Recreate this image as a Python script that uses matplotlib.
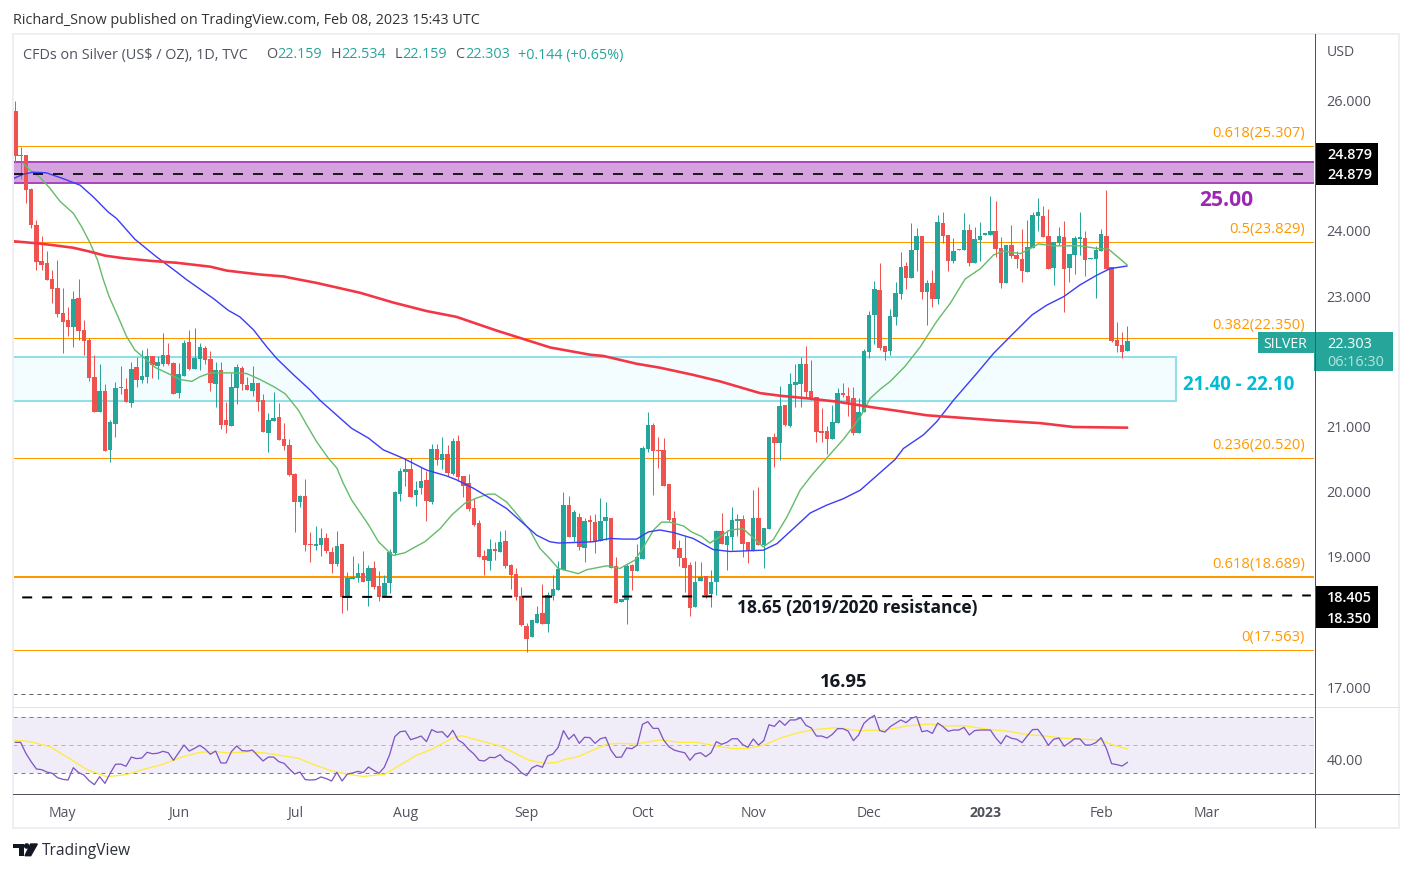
import matplotlib
matplotlib.use("Agg")
import matplotlib.pyplot as plt
from matplotlib.patches import Rectangle, Circle, Polygon

W, H = 1412, 872
FONT = "Open Sans"
plt.rcParams["font.family"] = [FONT, "DejaVu Sans"]

# daily candles
opens = [25.84,25.17,25.17,24.64,24.09,23.53,23.50,23.26,23.12,22.74,
         22.63,22.52,22.97,22.48,22.33,21.76,21.22,21.54,20.64,21.04,
         21.59,21.57,21.36,21.91,21.71,21.76,22.08,21.93,21.96,22.10,
         21.97,21.51,21.77,22.29,21.88,22.03,22.20,22.03,21.65,21.87,
         21.10,21.00,21.59,21.90,21.63,21.54,21.66,21.40,20.90,21.08,
         21.14,20.81,20.71,20.27,19.84,19.93,19.20,19.16,19.18,19.29,
         19.07,18.89,19.19,18.38,18.66,18.67,18.75,18.63,18.83,18.55,
         18.38,18.60,19.06,19.96,20.30,20.35,19.95,20.05,20.18,19.84,
         20.65,20.48,20.57,20.27,20.77,20.24,20.13,19.75,19.52,19.01,
         18.93,19.12,19.07,19.24,18.87,18.73,18.40,17.94,17.77,17.99,
         18.13,17.97,18.40,18.49,18.80,19.79,19.30,19.61,19.13,19.56,
         19.54,19.24,19.55,19.59,18.86,18.30,18.335,18.87,18.78,18.96,
         20.65,21.02,20.64,20.64,20.12,19.59,19.13,18.98,18.87,18.23,
         18.63,18.70,18.43,18.61,19.39,19.18,19.30,19.55,19.58,19.225,
         19.09,19.59,19.18,19.42,20.84,20.74,21.33,21.00,21.63,21.65,
         21.96,21.54,21.45,20.93,20.93,20.80,21.05,21.51,21.47,21.435,
         20.90,21.22,22.14,22.71,23.09,22.23,22.16,22.68,23.03,23.46,
         23.28,23.70,23.92,23.06,23.20,22.95,24.12,23.94,23.54,23.72,
         23.70,24.01,23.51,23.86,23.94,23.94,24.00,23.74,23.20,23.78,
         23.63,23.57,23.37,23.74,24.23,24.23,23.92,23.43,23.81,23.905,
         23.43,23.63,23.88,23.89,23.57,23.57,23.69,23.92,23.445,22.325,
         22.25,22.159]
closes = [25.15,25.15,24.63,24.09,23.52,23.47,23.25,23.11,22.72,22.60,
          22.52,22.95,22.46,22.31,21.74,21.22,21.54,20.62,21.07,21.59,
          21.61,21.37,21.88,21.71,21.77,22.08,21.94,21.99,22.10,21.96,
          21.50,21.80,22.28,21.88,22.05,22.22,22.02,21.66,21.87,21.02,
          21.02,21.60,21.91,21.65,21.56,21.66,21.37,20.91,21.10,21.13,
          20.79,20.70,20.25,19.84,19.93,19.18,19.18,19.19,19.29,19.09,
          18.89,19.16,18.38,18.67,18.69,18.75,18.61,18.83,18.53,18.38,
          18.60,19.07,19.99,20.31,20.35,19.92,20.02,20.16,19.85,20.65,
          20.48,20.57,20.28,20.77,20.22,20.08,19.73,19.49,18.99,18.95,
          19.12,19.09,19.23,18.86,18.72,18.38,17.95,17.73,18.03,18.12,
          17.97,18.41,18.50,18.81,19.79,19.30,19.69,19.15,19.55,19.54,
          19.225,19.55,19.61,18.83,18.29,18.345,18.86,18.78,18.99,20.67,
          21.02,20.62,20.62,20.08,19.56,19.12,18.98,18.83,18.21,18.61,
          18.69,18.41,18.61,19.39,19.19,19.32,19.56,19.58,19.19,19.09,
          19.59,19.18,19.44,20.84,20.74,21.31,21.02,21.65,21.68,21.96,
          21.53,21.435,20.91,20.90,20.80,21.07,21.51,21.48,21.34,20.90,
          21.22,22.16,22.71,23.11,22.20,22.14,22.69,23.05,23.445,23.28,
          23.70,23.92,23.06,23.20,22.95,24.14,23.92,23.54,23.69,23.70,
          24.01,23.51,23.875,23.92,23.95,24.00,23.72,23.20,23.78,23.61,
          23.57,23.38,23.75,24.24,24.29,23.905,23.41,23.83,23.92,23.41,
          23.645,23.89,23.89,23.55,23.59,23.70,23.95,23.41,22.31,22.23,
          22.14,22.303]
highs = [25.99,25.29,25.17,24.66,24.17,23.92,23.69,23.40,23.55,23.12,
         22.83,23.08,23.26,22.63,22.35,22.10,21.96,21.65,21.10,21.68,
         21.92,21.74,21.99,22.07,22.17,22.20,22.08,22.08,22.43,22.28,
         21.99,21.97,22.33,22.48,22.51,22.28,22.23,22.15,21.99,21.99,
         21.37,21.82,21.96,21.93,21.76,21.93,21.66,21.50,21.20,21.53,
         21.36,21.05,20.80,20.28,19.95,20.19,19.38,19.47,19.44,19.37,
         19.15,19.39,19.20,18.77,19.01,18.90,19.09,18.87,18.93,18.78,
         18.72,19.12,20.01,20.36,20.52,20.52,20.16,20.38,20.32,20.73,
         20.73,20.84,20.71,20.82,20.87,20.24,20.27,19.90,19.56,19.10,
         19.27,19.23,19.39,19.41,18.89,18.83,18.53,17.98,17.79,18.24,
         18.58,18.46,18.72,18.93,19.99,19.93,19.72,19.67,19.60,19.64,
         19.655,19.90,19.84,19.59,19.00,18.345,18.89,18.89,19.20,20.70,
         21.22,21.05,20.84,20.82,20.12,19.70,19.26,19.31,18.92,18.93,
         18.92,18.70,18.79,19.41,19.67,19.41,19.76,19.66,19.64,19.225,
         20.02,20.07,19.44,20.84,20.90,21.62,21.33,21.82,21.96,22.06,
         22.23,22.02,21.45,21.28,21.00,21.33,21.59,21.67,21.60,21.60,
         21.435,22.19,22.77,23.23,23.51,22.23,22.80,23.21,23.675,23.52,
         24.12,24.04,23.92,23.245,23.40,24.24,24.29,23.94,23.89,23.72,
         24.27,24.10,24.06,24.14,23.95,24.535,24.46,23.905,23.78,24.09,
         23.69,24.03,24.17,24.29,24.50,24.38,24.335,23.83,24.06,24.15,
         23.645,23.92,24.29,24.00,23.59,23.77,24.03,24.63,23.445,22.60,
         22.45,22.534]
lows = [25.06,24.80,24.43,24.05,23.40,23.40,23.25,22.89,22.68,22.13,
        22.38,22.22,22.32,22.10,21.70,21.22,21.22,20.62,20.45,20.84,
        21.50,21.37,21.29,21.61,21.67,21.67,21.74,21.73,21.93,21.94,
        21.49,21.44,21.77,21.86,21.88,21.86,21.95,21.54,21.29,20.96,
        20.90,21.00,21.34,21.56,21.56,21.47,21.24,20.91,20.60,21.08,
        20.79,20.64,20.24,19.38,19.77,19.09,18.92,19.10,19.01,19.05,
        18.75,18.86,18.14,18.18,18.66,18.61,18.61,18.24,18.50,18.32,
        18.38,18.44,19.03,19.85,20.08,19.92,19.78,19.96,19.55,19.81,
        20.41,20.35,20.24,20.25,20.16,19.92,19.70,19.47,18.99,18.72,
        18.80,18.95,19.07,18.83,18.50,18.33,17.94,17.54,17.77,17.99,
        17.97,17.84,18.33,18.49,18.80,19.30,19.23,19.10,18.92,19.23,
        19.05,19.24,19.26,18.83,18.29,18.30,17.97,18.49,18.78,18.96,
        20.61,19.95,20.36,20.08,19.55,19.12,18.85,18.46,18.09,18.23,
        18.63,18.37,18.23,18.41,19.19,18.80,19.10,19.32,18.99,18.90,
        19.09,19.18,18.83,19.42,20.38,20.48,21.00,20.99,21.30,21.30,
        21.45,21.40,20.76,20.76,20.58,20.80,21.05,21.45,21.16,20.87,
        20.90,21.22,22.05,22.26,22.17,22.02,22.09,22.55,22.95,23.11,
        23.28,23.38,22.95,22.555,22.83,22.88,23.82,23.38,23.51,23.70,
        23.70,23.46,23.51,23.54,23.94,23.94,23.60,23.12,23.20,23.58,
        23.43,23.21,23.37,23.74,24.00,23.905,23.41,23.17,23.78,22.755,
        23.215,23.34,23.63,23.31,23.57,22.97,23.69,23.41,22.29,22.14,
        22.05,22.159]

# moving averages, sampled along the curves (bar position, price)
ma20_x = [1.5,2.8,4.7,6.6,8.5,11,12.6,14.2,15.6,16.7,17.8,19.5,21.1,22.7,24.6,26.5,29,31.2,33.5,35,
          37,39.5,41.4,43.9,46.4,49,51.2,53.7,55.3,57.2,59.4,61,62.2,63.8,67,68.9,70.8,71.7,73.9,76.1,
          77.7,80.6,82.8,85.3,87.5,89.7,91,93.2,95.1,97.6,99.5,101.4,103,104.9,106.8,108.4,112.2,114.7,117.6,119.2,
          121.1,122.6,124.2,126.8,128.3,130.2,131.8,133.7,135.6,138.1,139.7,141.9,143.8,146.4,148.9,151.1,153.9,157.1,160.3,162.2,
          164.1,166,168.8,171.7,174.8,177.4,180.2,183.1,185.6,187.5,190.7,192.6,194.1,197,200.1,202,205.2,207.4,210.9]
ma20_y = [25.04,24.93,24.82,24.65,24.45,24.27,24.06,23.81,23.55,23.25,22.99,22.68,22.38,22.17,22.04,21.905,21.81,21.72,21.69,21.76,
          21.82,21.82,21.82,21.81,21.72,21.61,21.5,21.25,21.02,20.76,20.51,20.36,20.13,19.87,19.49,19.23,19.08,19.02,19.06,19.16,
          19.23,19.43,19.64,19.82,19.90,19.96,19.96,19.84,19.66,19.41,19.13,18.97,18.82,18.78,18.74,18.80,18.86,18.82,18.95,19.15,
          19.41,19.53,19.53,19.47,19.38,19.31,19.21,19.31,19.41,19.43,19.31,19.15,19.26,19.61,20.02,20.25,20.51,20.80,21.14,21.43,
          21.57,21.69,21.92,22.22,22.61,22.89,23.26,23.42,23.63,23.69,23.65,23.73,23.80,23.77,23.77,23.77,23.73,23.72,23.48]
ma50_x = [-0.4,1.5,3.4,5.9,9.1,12.3,14.8,17.6,19.2,22.7,26.8,30.6,32.5,37.6,40.4,42.6,45.2,47.7,49.6,52.8,
          55.9,57.8,61,63.8,67,69.8,73.6,78,81.8,83.7,86.9,89.4,93.2,95.7,98.9,101.4,103,107.1,109.7,112.8,
          115.4,117.9,120.1,122.3,124.9,128.6,132.4,135.6,141.9,144.5,147.6,150.8,153.9,157.1,160.3,166.9,168.5,172.3,174.8,178,
          182.7,185.6,189.4,192.9,195.7,198.9,202,205.2,207.7,210.9]
ma50_y = [24.80,24.87,24.90,24.89,24.80,24.70,24.52,24.29,24.19,23.87,23.60,23.37,23.25,22.96,22.78,22.68,22.48,22.22,22.04,21.79,
          21.56,21.40,21.17,20.97,20.82,20.64,20.51,20.33,20.24,20.18,20.05,19.93,19.74,19.56,19.33,19.23,19.21,19.22,19.23,19.28,
          19.27,19.27,19.38,19.41,19.37,19.28,19.11,19.08,19.10,19.20,19.43,19.67,19.79,19.89,20.02,20.49,20.66,20.87,21.07,21.40,
          21.84,22.12,22.43,22.71,22.86,22.99,23.17,23.32,23.42,23.46]
ma200_x = [-0.4,4,7.2,11,14.2,17,20.5,25.6,30.6,37,40.1,46.4,50.9,52.1,57.2,65.4,71.7,78,83.7,91.3,
           96.4,101.5,109,111.6,117.9,122.3,128.6,133.7,137.5,141.3,145.1,150.2,155.8,162.8,167.2,172.9,178,186.2,194.4,200.8,210.9]
ma200_y = [23.84,23.81,23.78,23.74,23.68,23.62,23.58,23.54,23.51,23.45,23.39,23.33,23.30,23.28,23.20,23.05,22.90,22.77,22.68,22.47,
           22.34,22.21,22.10,22.08,21.96,21.90,21.79,21.69,21.60,21.51,21.47,21.43,21.38,21.29,21.24,21.17,21.14,21.09,21.05,20.99,20.98]

# RSI pane
rsi = [52.1,52.1,44.3,38.3,33.1,32.6,30.9,30.0,26.9,25.7,25.2,34.0,30.5,28.8,24.7,21.9,27.6,22.8,30.0,36.4,
       36.6,35.0,41.6,40.5,40.9,45.0,44.0,44.3,45.7,44.7,39.3,44.7,50.2,45.9,47.8,50.0,47.4,43.6,45.9,37.4,
       37.4,45.5,49.5,46.2,45.9,46.6,42.6,38.8,41.6,41.6,38.3,37.1,33.1,29.5,30.9,25.5,25.2,25.5,27.4,26.2,
       24.5,30.7,24.5,29.5,30.2,31.4,30.5,34.5,32.1,30.0,34.3,43.1,56.2,59.7,60.2,54.0,55.2,56.6,52.6,61.2,
       59.3,59.7,55.7,60.7,53.8,51.4,47.1,43.8,39.3,38.8,41.4,41.2,43.3,39.3,37.6,34.5,30.5,28.3,33.8,35.7,
       34.3,42.4,43.8,48.6,60.5,54.3,57.8,51.4,55.7,55.5,51.4,54.7,55.7,46.6,41.4,41.6,48.1,47.6,50.2,65.0,
       66.9,62.1,62.1,53.8,49.0,46.6,45.5,44.7,39.3,43.8,44.7,41.9,44.7,52.6,50.7,52.1,54.7,54.7,50.5,48.6,
       54.5,50.2,53.3,64.7,63.5,67.6,64.3,68.1,68.1,69.7,64.3,62.4,56.6,56.6,55.2,57.8,61.9,61.9,60.2,53.3,
       57.4,65.7,69.0,71.4,60.5,59.5,63.3,65.7,68.1,66.2,69.3,70.5,59.7,60.5,58.5,65.9,63.3,60.0,60.9,60.9,
       62.8,57.4,60.5,60.9,60.9,60.9,55.4,51.0,56.9,55.0,54.3,51.9,56.7,61.2,61.4,56.2,50.0,54.3,55.2,49.3,
       51.9,54.7,54.5,50.2,50.2,51.9,55.4,47.8,36.9,36.2,35.2,37.8]
rsi_ma_x = [-0.4,1.5,3.4,6.6,10.7,13.5,17.3,21,24.3,27.5,31.9,35,37.9,40.7,44.5,47.7,50.9,53.7,56.5,59.7,
            62.9,66,70.1,73,76.2,79,83.1,84.7,88.8,92,94.5,97.3,100.5,102.8,104.3,106.8,109.4,112.2,114.7,117.6,
            122.3,126.1,129.3,133.7,136.2,138.8,141.9,145.4,148.9,152.1,155.8,160,165.3,169.1,173.2,176.7,179.9,185,188.5,191.9,
            195.7,198.9,201.7,205.8,208.3,211]
rsi_ma_y = [53.3,53.3,52.1,49.0,39.5,32.8,27.6,29.0,32.8,35.9,41.9,45.0,45.5,44.5,45.5,44.3,42.4,40.7,36.4,32.1,
            29.3,27.8,29.3,35.9,43.1,47.1,55.5,56.9,52.6,49.5,45.0,39.5,37.1,37.8,40.0,41.9,46.2,50.7,51.4,50.9,
            53.8,52.1,52.1,49.0,47.6,47.8,50.0,55.5,59.3,61.4,62.6,60.5,61.0,63.8,65.2,63.8,64.0,61.2,60.0,57.6,
            56.6,55.0,54.5,53.8,50.2,47.4]

fib_levels = [25.307, 23.829, 22.350, 20.520, 18.689, 17.563]
fib_labels = ["0.618(25.307)", "0.5(23.829)", "0.382(22.350)", "0.236(20.520)", "0.618(18.689)", "0(17.563)"]
price_ticks = [26, 24, 23, 21, 20, 19, 17]
month_ticks = [9, 31, 53, 74, 97, 119, 140, 162, 184, 206, 226]
month_labels = ["May", "Jun", "Jul", "Aug", "Sep", "Oct", "Nov", "Dec", "2023", "Feb", "Mar"]

UP = "#26a69a"
DOWN = "#ef5350"
ORANGE = "#ff9800"
GREY = "#50535e"
PX = 0.72  # one pixel in points


def fx(x):
    return x / W


def fy(y):
    return 1 - y / H


def pane(left, top, right, bottom):
    return [fx(left), fy(bottom), (right - left) / W, (bottom - top) / H]


def label(x, y, s, color=GREY, size=14, **kw):
    # text placed in picture pixels, outside the data
    kw.setdefault("va", "center")
    fig.text(fx(x), fy(y + 1), s, color=color, fontsize=size * PX, **kw)


def box(x0, y0, x1, y1, color):
    fig.add_artist(Rectangle((fx(x0), fy(y1)), (x1 - x0) / W, (y1 - y0) / H, transform=fig.transFigure,
                             facecolor=color, edgecolor="none"))


fig = plt.figure(figsize=(W / 100, H / 100), dpi=100)
ax = fig.add_axes(pane(13, 35, 1314, 706))
ax_rsi = fig.add_axes(pane(13, 707, 1314, 793))

xmin, xmax = -0.442, 246.4
ax.set_xlim(xmin, xmax)
ax.set_ylim(16.709, 27.005)
ax_rsi.set_xlim(xmin, xmax)
ax_rsi.set_ylim(15.93, 77.36)

# zones and levels
ax.add_patch(Rectangle((xmin - 5, 24.73), xmax - xmin + 10, 25.06 - 24.73, facecolor="#d4a3de",
                       edgecolor="#ab47bc", lw=2 * PX, zorder=1))
ax.add_patch(Rectangle((xmin - 5, 21.39), 220.2 - xmin + 5, 22.06 - 21.39, facecolor="#f3fcfe",
                       edgecolor="#8fe0e8", lw=2 * PX, zorder=1))
for level in fib_levels:
    ax.axhline(level, color=ORANGE, lw=(2 if level == 18.689 else 1) * PX, zorder=1.5)
ax.axhline(16.90, color="#5d606b", lw=1 * PX, ls=(0, (4, 4)), zorder=1.5)

# candles
for i in range(len(opens)):
    c = UP if closes[i] >= opens[i] else DOWN
    ax.vlines(i, lows[i], highs[i], color=c, lw=1 * PX, zorder=2)
    body = max(abs(closes[i] - opens[i]), 0.02)
    ax.bar(i, body, bottom=min(opens[i], closes[i]), width=0.85, color=c, linewidth=0, zorder=2.1)

ax.plot(ma20_x, ma20_y, color="#66bb6a", lw=1.4 * PX, zorder=3)
ax.plot(ma50_x, ma50_y, color="#3d3df5", lw=1.4 * PX, zorder=3)
ax.plot(ma200_x, ma200_y, color="#f23645", lw=2.6 * PX, zorder=3)

ax.plot([xmin, xmax - 1.6], [24.879, 24.879], color="black", lw=2 * PX, ls=(0, (5, 5)), zorder=3.5, alpha=0.85)
ax.plot([1.3, xmax - 0.6], [18.375, 18.405], color="black", lw=2 * PX, ls=(0, (5, 5)), zorder=3.5)

for level, text in zip(fib_levels, fib_labels):
    ax.annotate(text, (xmax, level), xytext=(1305 - 1314, 5), textcoords="offset pixels", ha="right", va="bottom",
                color=ORANGE, fontsize=14.8 * PX, annotation_clip=False, zorder=4)

ax.tick_params(axis="x", bottom=False, labelbottom=False)
ax.yaxis.tick_right()
ax.set_yticks(price_ticks)
ax.set_yticklabels(["%.3f" % p for p in price_ticks])
ax.tick_params(axis="y", length=0, pad=9, labelsize=14.4 * PX, labelcolor=GREY)

# RSI
ax_rsi.axhspan(30, 70, color="#7e57c2", alpha=0.1, lw=0, zorder=1)
ax_rsi.axhline(70, color="#787b86", lw=1 * PX, ls=(0, (4, 4)), zorder=1.5)
ax_rsi.axhline(50, color="#b2b5be", lw=1 * PX, ls=(0, (4, 4)), zorder=1.5)
ax_rsi.axhline(30, color="#787b86", lw=1 * PX, ls=(0, (4, 4)), zorder=1.5)
ax_rsi.plot(rsi_ma_x, rsi_ma_y, color="#ffeb3b", lw=1.3 * PX, zorder=2)
ax_rsi.plot(range(len(rsi)), rsi, color="#7e57c2", lw=1.3 * PX, zorder=3)
ax_rsi.yaxis.tick_right()
ax_rsi.set_yticks([40])
ax_rsi.set_yticklabels(["40.00"])
ax_rsi.tick_params(axis="y", length=0, pad=9, labelsize=14.4 * PX, labelcolor=GREY)
ax_rsi.set_xticks(month_ticks)
ax_rsi.set_xticklabels(month_labels)
ax_rsi.tick_params(axis="x", length=0, pad=9, labelsize=14 * PX, labelcolor=GREY)
ax_rsi.get_xticklabels()[8].set_fontweight("bold")

for a in (ax, ax_rsi):
    for s in a.spines.values():
        s.set_visible(False)

# frame and scale lines
fig.add_artist(Rectangle((fx(13), fy(828)), 1386 / W, 794 / H, transform=fig.transFigure,
                         facecolor="none", edgecolor="#eeeef5", lw=2 * PX))
fig.add_artist(plt.Line2D([fx(13), fx(1399)], [fy(706.5)] * 2, color="#e0e3eb", lw=1 * PX))
fig.add_artist(plt.Line2D([fx(13), fx(1399)], [fy(793.5)] * 2, color=GREY, lw=1 * PX))
fig.add_artist(plt.Line2D([fx(1314.5)] * 2, [fy(34), fy(827)], color=GREY, lw=1 * PX))

# annotations on the chart
label(1226, 200, "25.00", "#9c27b0", 21, ha="center", fontweight="bold")
label(1239, 384, "21.40 - 22.10", "#00bcd4", 18.6, ha="center", fontweight="bold")
label(857, 607, "18.65 (2019/2020 resistance)", "#131722", 17.4, ha="center", fontweight="bold")
label(843.5, 681, "16.95", "#131722", 18.5, ha="center", fontweight="bold")

# price tags on the scale
box(1315, 143, 1378, 185, "black")
label(1327, 154, "24.879", "white", 14.4, fontweight="semibold")
label(1327, 174, "24.879", "white", 14.4, fontweight="semibold")
box(1315, 586, 1378, 628, "black")
label(1327, 597, "18.405", "white", 14.4, fontweight="semibold")
label(1327, 618, "18.350", "white", 14.4, fontweight="semibold")
box(1258, 332, 1314, 353, UP)
box(1314, 332, 1393, 371, UP)
label(1263, 343, "SILVER", "white", 14)
label(1327, 343, "22.303", "white", 14.4)
label(1327, 361, "06:16:30", "#b7e4e0", 14.4)
label(1327, 51, "USD", GREY, 14)

# header and legend
label(13, 20, "Richard_Snow published on TradingView.com, Feb 08, 2023 15:43 UTC", "#333333", 14.4)
label(23, 54, "CFDs on Silver (US$ / OZ), 1D, TVC", GREY, 14.4)
for x, s in [(266, "O"), (331, "H"), (395, "L"), (455, "C")]:
    label(x, 54, s, GREY, 14.4)
for x, s in [(277, "22.159"), (341, "22.534"), (402, "22.159"), (465, "22.303"), (518, "+0.144 (+0.65%)")]:
    label(x, 54, s, UP, 14.4)

# TradingView mark
logo = "#131722"
box(13.3, 844, 24, 848.3, logo)
box(18.7, 848.3, 24, 855.7, logo)
fig.add_artist(Circle((26.7 / 100, (H - 846) / 100), 2.1 / 100, transform=fig.dpi_scale_trans, color=logo))
fig.add_artist(Polygon([(fx(30.7), fy(844)), (fx(37.3), fy(844)), (fx(30.7), fy(855.7)), (fx(25), fy(855.7))],
                       transform=fig.transFigure, color=logo))
label(42, 850, "TradingView", "#2a2e39", 15.5)

fig.savefig("out.png", dpi=100)
